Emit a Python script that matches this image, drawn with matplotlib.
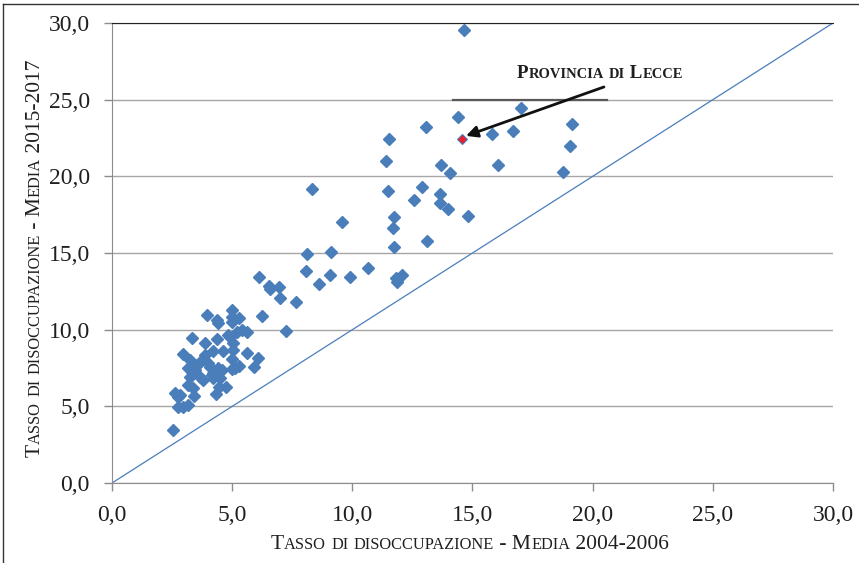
import matplotlib.pyplot as plt
from matplotlib.transforms import IdentityTransform

plt.rcParams['font.family'] = ['Liberation Serif', 'DejaVu Serif']

# tasso di disoccupazione: media 2004-2006 (x) vs media 2015-2017 (y)
media_2004_2006 = [
    2.54, 2.62, 2.83, 2.75, 2.75, 2.95, 3.16, 3.41, 4.33, 3.16,
    3.37, 4.45, 4.74, 3.25, 3.66, 3.79, 4.16, 4.20, 4.20, 4.49,
    3.16, 3.33, 3.45, 4.41, 4.58, 4.99, 5.12, 5.29, 3.66, 3.54,
    4.00, 4.08, 3.25, 2.95, 3.87, 4.20, 4.62, 5.04, 5.62, 4.99,
    6.08, 5.91, 3.33, 3.87, 4.37, 5.04, 4.83, 4.91, 5.20, 5.41,
    5.62, 7.24, 3.95, 4.37, 4.41, 4.99, 4.99, 4.99, 5.29, 6.24,
    6.12, 6.53, 6.58, 6.95, 6.99, 7.66, 8.32, 11.49, 9.57, 11.74,
    11.69, 11.74, 8.11, 9.11, 8.07, 9.07, 8.61, 9.90, 10.65, 11.82,
    12.07, 11.86, 14.65, 14.40, 13.07, 11.53, 11.40, 13.69, 14.07, 12.90,
    12.57, 13.65, 13.65, 13.98, 14.81, 17.02, 16.69, 15.81, 19.14, 19.06,
    16.06, 18.77, 13.11,
]
media_2015_2017 = [
    3.46, 5.87, 5.74, 5.61, 4.96, 4.96, 5.09, 5.68, 5.81, 6.39,
    6.20, 6.26, 6.26, 6.91, 6.91, 6.72, 7.05, 6.85, 7.18, 6.85,
    7.50, 7.24, 7.37, 7.50, 7.37, 7.44, 7.50, 7.63, 7.89, 7.70,
    7.83, 7.57, 8.02, 8.41, 8.35, 8.61, 8.61, 8.68, 8.48, 8.09,
    8.15, 7.57, 9.46, 9.13, 9.39, 9.13, 9.65, 9.52, 9.85, 9.98,
    9.85, 9.92, 10.96, 10.63, 10.44, 11.29, 10.83, 10.50, 10.76, 10.89,
    13.44, 12.85, 12.66, 12.79, 12.07, 11.81, 19.18, 19.05, 17.03, 17.35,
    16.63, 15.39, 14.94, 15.07, 13.83, 13.57, 12.98, 13.44, 14.02, 13.37,
    13.57, 13.11, 29.55, 23.87, 23.22, 22.44, 21.00, 20.74, 20.22, 19.31,
    18.46, 18.85, 18.26, 17.87, 17.42, 24.46, 22.96, 22.77, 23.42, 21.98,
    20.74, 20.29, 15.79,
]
lecce_x = 14.57
lecce_y = 22.44

ticks = [0, 5, 10, 15, 20, 25, 30]
tick_labels = [f'{t:.1f}'.replace('.', ',') for t in ticks]

blue = '#4a7ebb'
grey = '#a6a6a6'
ink = '#1f1f1f'


def small_caps(fig, x, y, s, size, rotation=0, weight='normal', ratio=0.76):
    # fake small caps: lowercase letters are drawn as smaller capitals
    runs = []
    for ch in s:
        small = ch.islower()
        if runs and runs[-1][1] == small:
            runs[-1][0] += ch.upper()
        else:
            runs.append([ch.upper(), small])
    r = fig.canvas.get_renderer()

    def width(txt, fs):
        a = fig.text(0, 0, txt + '|', fontsize=fs, weight=weight)
        b = fig.text(0, 0, '|', fontsize=fs, weight=weight)
        w = a.get_window_extent(r).width - b.get_window_extent(r).width
        a.remove()
        b.remove()
        return w

    sizes = [size * ratio if sm else size for _, sm in runs]
    widths = [width(txt, fs) for (txt, _), fs in zip(runs, sizes)]
    pos = -sum(widths) / 2
    for (txt, _), fs, w in zip(runs, sizes, widths):
        dx, dy = (0, pos) if rotation == 90 else (pos, 0)
        fig.text(x + dx, y + dy, txt, transform=IdentityTransform(), fontsize=fs,
                 rotation=rotation, rotation_mode='anchor', ha='left',
                 va='baseline', weight=weight, color=ink)
        pos += w


fig = plt.figure(figsize=(8.59, 5.63), dpi=100)
ax = fig.add_axes([0.1304, 0.1421, 0.8393, 0.8170])

ax.plot([0, 30], [0, 30], color=blue, lw=0.9, zorder=2)
ax.plot(media_2004_2006, media_2015_2017, 'D', ms=6, color=blue, mec=blue, zorder=3)
ax.plot(lecce_x, lecce_y, 'D', ms=5.5, color='#e8202a', mec=blue, mew=0.8, zorder=4)

ax.set_xlim(0, 30)
ax.set_ylim(0, 30)
ax.set_xticks(ticks, tick_labels)
ax.set_yticks(ticks, tick_labels)
ax.grid(axis='y', color=grey, lw=1)
ax.set_axisbelow(True)
ax.tick_params(direction='out', length=6, width=1, color='#8c8c8c',
               labelsize=17, labelcolor=ink, pad=10)
for side in ['left', 'bottom']:
    ax.spines[side].set_color('#8c8c8c')
ax.spines['right'].set_visible(False)
ax.spines['top'].set_color('#222222')

# annotation for Lecce
ax.plot([14.19, 20.6], [24.98, 24.98], color='#595959', lw=1.6, zorder=3)
ax.annotate('', xy=(14.73, 22.64), xytext=(20.47, 25.83),
            arrowprops=dict(arrowstyle='-|>', color='#111111', lw=2,
                            mutation_scale=17, shrinkA=0, shrinkB=0))

# outer frame (left and top)
fig.add_artist(plt.Line2D([3.5 / 859, 3.5 / 859], [0, 1 - 3.5 / 563],
                          transform=fig.transFigure, color='#333333', lw=1))
fig.add_artist(plt.Line2D([3.5 / 859, 1], [1 - 3.5 / 563, 1 - 3.5 / 563],
                          transform=fig.transFigure, color='#333333', lw=1))

fig.canvas.draw()
small_caps(fig, 470, 563 - 549, 'Tasso di disoccupazione - Media 2004-2006', 15.5)
small_caps(fig, 40, 563 - 258, 'Tasso di disoccupazione - Media 2015-2017', 15.5, rotation=90)
small_caps(fig, 600, 563 - 78, 'Provincia di Lecce', 13.7, weight='bold')

fig.savefig('out.png', dpi=100)
